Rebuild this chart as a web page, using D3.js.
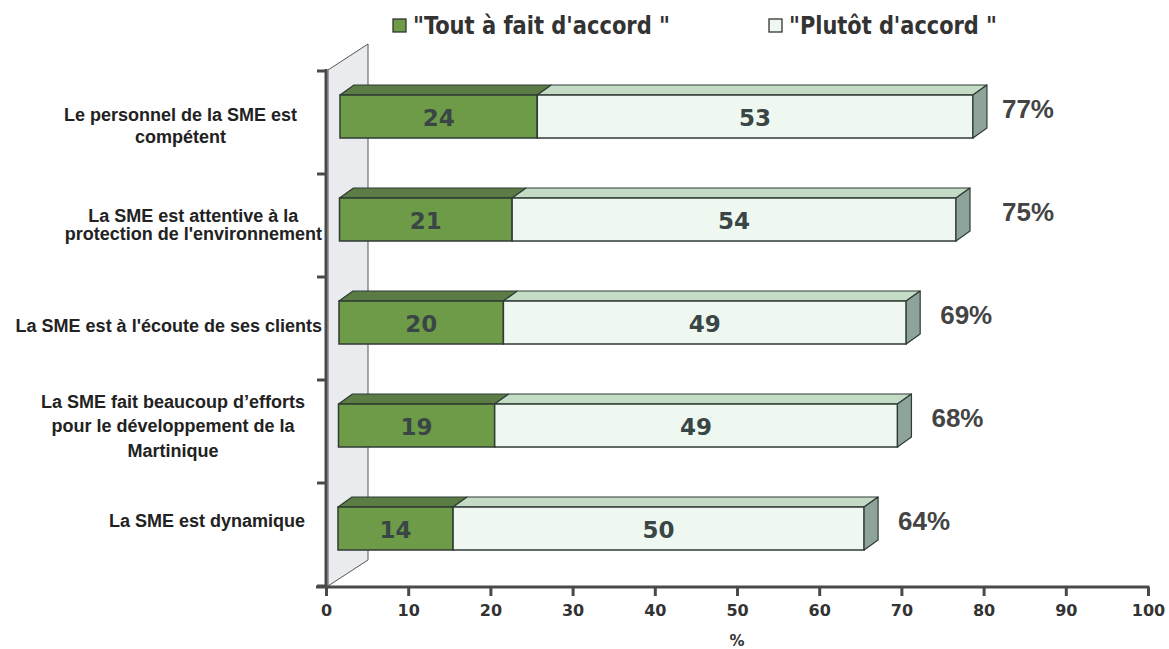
<!DOCTYPE html>
<html>
<head>
<meta charset="utf-8">
<script src="https://cdnjs.cloudflare.com/ajax/libs/d3/7.8.5/d3.min.js"></script>
<style>
  html, body { margin: 0; padding: 0; background: #fff; }
  svg { display: block; }
</style>
</head>
<body>
<svg id="chart" width="1169" height="649"></svg>
<script>
// ---- data ----
const categories = [
  ["Le personnel de la SME est", "compétent"],
  ["La SME est attentive à la", "protection de l'environnement"],
  ["La SME est à l'écoute de ses clients"],
  ["La SME fait beaucoup d\u2019efforts", "pour le développement de la", "Martinique"],
  ["La SME est dynamique"]
];
const toutAFait = [24, 21, 20, 19, 14];
const plutot    = [53, 54, 49, 49, 50];
const totalLabels = ["77%", "75%", "69%", "68%", "64%"];
const seriesNames = ["\"Tout à fait d'accord \"", "\"Plutôt d'accord \""];
const xTicks = [0, 10, 20, 30, 40, 50, 60, 70, 80, 90, 100];
const axisTitle = "%";

// ---- layout constants ----
const labelRight = [297, 322, 322, 305, 305];
const labelLineH = [22, 18, 0, 24.5, 0];
const labelDY    = [3.5, -0.5, -2.5, -5.5, -13.5];
const pctNudge   = [-5, 12, 0, 0, 0];

const svg = d3.select("#chart");
const x = d3.scaleLinear().domain([0, 100]).range([326, 1148]);
const catIdx = categories.map((d, i) => i);
const y = d3.scaleBand().domain(catIdx).range([71, 586]).padding(0);

const depthX = 14, depthY = -10;
const barH = 43;
const colors = {
  greenFront: "#6e9b47", greenTop: "#5c7c46", greenSide: "#4f6a3e",
  lightFront: "#eef8f1", lightTop: "#c4dcc6", lightSide: "#8ea39a",
  stroke: "#2f3b34"
};

// ---- back wall ----
const wx0 = x(0) + 2, wy0 = 70, wy1 = 586;
const wall = d3.path();
wall.moveTo(wx0, wy0); wall.lineTo(wx0 + 40, wy0 - 26);
wall.lineTo(wx0 + 40, wy1 - 26); wall.lineTo(wx0, wy1); wall.closePath();
svg.append("path").attr("d", wall.toString())
  .attr("fill", "#eaebef").attr("stroke", "#555").attr("stroke-width", 1);

// ---- bars ----
const g = svg.append("g");
catIdx.forEach(i => {
  const off = depthX - i * 0.5;
  const yc = y(i) + y.bandwidth() / 2 - 6;
  const yt = yc - barH / 2;
  const segs = [
    {x0: 0, x1: toutAFait[i], front: colors.greenFront, top: colors.greenTop, side: colors.greenSide, val: toutAFait[i]},
    {x0: toutAFait[i], x1: toutAFait[i] + plutot[i], front: colors.lightFront, top: colors.lightTop, side: colors.lightSide, val: plutot[i]}
  ];
  segs.forEach((s, k) => {
    const a = x(s.x0) + off, b = x(s.x1) + off;
    g.append("path")
      .attr("d", `M${a},${yt}L${a + depthX},${yt + depthY}L${b + depthX},${yt + depthY}L${b},${yt}Z`)
      .attr("fill", s.top).attr("stroke", colors.stroke).attr("stroke-width", 1.2).attr("stroke-linejoin", "round");
    g.append("rect").attr("x", a).attr("y", yt).attr("width", b - a).attr("height", barH)
      .attr("fill", s.front).attr("stroke", colors.stroke).attr("stroke-width", 1.5);
    if (k === segs.length - 1) {
      g.append("path")
        .attr("d", `M${b},${yt}L${b + depthX},${yt + depthY}L${b + depthX},${yt + depthY + barH}L${b},${yt + barH}Z`)
        .attr("fill", s.side).attr("stroke", colors.stroke).attr("stroke-width", 1.2).attr("stroke-linejoin", "round");
    }
    g.append("text")
      .attr("x", (a + b) / 2).attr("y", yc + 1)
      .attr("text-anchor", "middle").attr("dominant-baseline", "central")
      .attr("font-family", "'DejaVu Sans', Verdana, sans-serif").attr("font-weight", "bold")
      .attr("font-size", 23).attr("fill", "#3a4646")
      .text(s.val);
  });
  const total = toutAFait[i] + plutot[i];
  g.append("text")
    .attr("x", x(total) + off + depthX + 20 + pctNudge[i]).attr("y", yc - 8)
    .attr("dominant-baseline", "central")
    .attr("font-family", "'Liberation Sans', Arial, sans-serif").attr("font-weight", "bold")
    .attr("font-size", 26).attr("fill", "#444")
    .text(totalLabels[i]);
});

// ---- category labels ----
const catFont = "'Liberation Sans', Arial, sans-serif";
catIdx.forEach(i => {
  const lines = categories[i];
  const yc = y(i) + y.bandwidth() / 2 + labelDY[i];
  const t = svg.append("text")
    .attr("font-family", catFont).attr("font-weight", "bold")
    .attr("font-size", 18).attr("fill", "#222").attr("text-anchor", "middle");
  const tmp = svg.append("text").attr("font-family", catFont)
    .attr("font-weight", "bold").attr("font-size", 18);
  let maxW = 0;
  lines.forEach(l => { tmp.text(l); maxW = Math.max(maxW, tmp.node().getComputedTextLength()); });
  tmp.remove();
  const cx = labelRight[i] - maxW / 2;
  const lh = labelLineH[i];
  const y0 = yc - (lines.length - 1) * lh / 2;
  lines.forEach((l, j) => {
    t.append("tspan").attr("x", cx).attr("y", y0 + j * lh).attr("dy", "0.35em").text(l);
  });
});

// ---- axes ----
const axisColor = "#4a4a4a";
svg.append("line").attr("x1", x(0)).attr("x2", x(0)).attr("y1", 69).attr("y2", 588)
  .attr("stroke", axisColor).attr("stroke-width", 3);
const yBounds = catIdx.map(i => y(i)).concat([y(catIdx[catIdx.length - 1]) + y.bandwidth()]);
svg.selectAll(".ytick").data(yBounds).enter().append("line")
  .attr("x1", x(0) - 9).attr("x2", x(0)).attr("y1", d => d).attr("y2", d => d)
  .attr("stroke", axisColor).attr("stroke-width", 3);

const xAxis = d3.axisBottom(x).tickValues(xTicks).tickSize(9).tickPadding(9).tickSizeOuter(0);
const xg = svg.append("g").attr("transform", "translate(0,587)").call(xAxis);
xg.select(".domain").remove();
xg.selectAll(".tick line").attr("stroke", axisColor).attr("stroke-width", 3);
xg.selectAll(".tick text")
  .attr("font-family", "'DejaVu Sans', Verdana, sans-serif").attr("font-weight", "bold")
  .attr("font-size", 16).attr("fill", "#333");
svg.append("line").attr("x1", 316).attr("x2", x(100) + 1.5).attr("y1", 587).attr("y2", 587)
  .attr("stroke", axisColor).attr("stroke-width", 3);

svg.append("text").attr("x", x(50)).attr("y", 646)
  .attr("text-anchor", "middle")
  .attr("font-family", "'DejaVu Sans', Verdana, sans-serif").attr("font-weight", "bold")
  .attr("font-size", 15).attr("fill", "#333").text(axisTitle);

// ---- legend ----
const legendItems = [
  {name: seriesNames[0], color: colors.greenFront, x: 393, w: 257},
  {name: seriesNames[1], color: colors.lightFront, x: 769, w: 208}
];
const lg = svg.append("g");
legendItems.forEach(d => {
  lg.append("rect").attr("x", d.x).attr("y", 19).attr("width", 13).attr("height", 13)
    .attr("fill", d.color).attr("stroke", "#333").attr("stroke-width", 1.3);
  lg.append("text").attr("x", d.x + 20).attr("y", 34)
    .attr("font-family", "'Liberation Sans Narrow', 'DejaVu Sans Condensed', sans-serif").attr("font-weight", "bold")
    .attr("font-size", 24).attr("fill", "#333")
    .attr("textLength", d.w).attr("lengthAdjust", "spacingAndGlyphs")
    .text(d.name);
});
</script>
</body>
</html>
